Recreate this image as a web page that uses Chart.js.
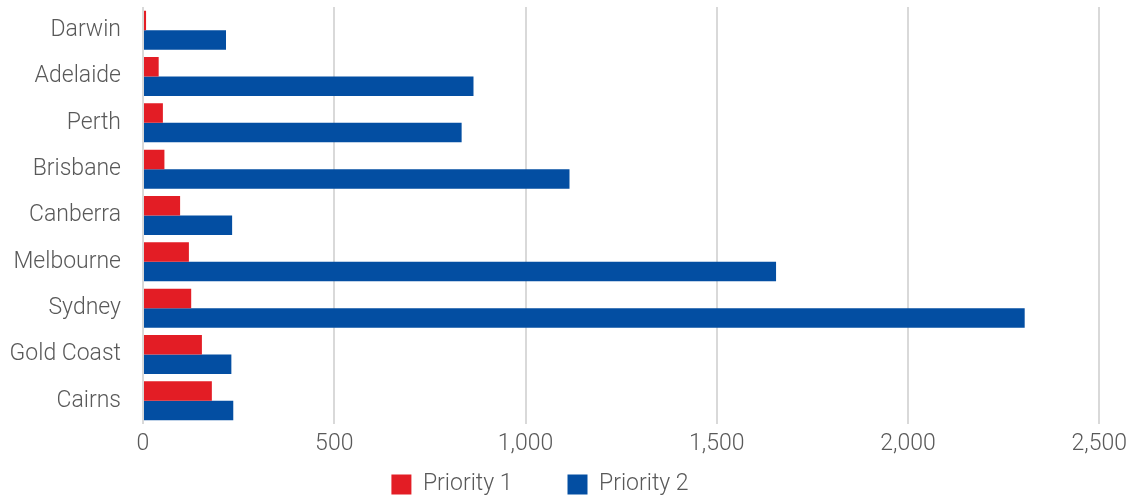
<!DOCTYPE html>
<html>
<head>
<meta charset="utf-8">
<script src="https://cdn.jsdelivr.net/npm/chart.js@4/dist/chart.umd.min.js"></script>
<style>
  html, body { margin: 0; padding: 0; background: #fff; }
  #wrap { width: 1133px; height: 501px; }
</style>
</head>
<body>
<div id="wrap"><canvas id="chart"></canvas></div>
<script>
// Datos
const cities = ['Darwin', 'Adelaide', 'Perth', 'Brisbane', 'Canberra', 'Melbourne', 'Sydney', 'Gold Coast', 'Cairns'];
const priority1 = [8, 41, 52, 56, 97, 120, 126, 154, 180];
const priority2 = [217, 864, 833, 1115, 233, 1655, 2305, 231, 236];
const xTicks = [0, 500, 1000, 1500, 2000, 2500];

const RED = '#e31d25';
const BLUE = '#034ea2';
const TEXT = '#595959';
const FONT = 'Roboto';

// Ajuste de la leyenda: el padding grande separa items, pero no queremos tanto alto
const legendHeight = {
    id: 'legendHeight',
    beforeInit(chart) {
        const fit = chart.legend.fit;
        chart.legend.fit = function () {
            fit.call(this);
            this.height = 43;
        };
    },
    afterLayout(chart) {
        const lg = chart.legend;
        lg.top -= 40;
        lg.left -= 10;
        lg.right -= 10;
    }
};

new Chart(document.getElementById('chart'), {
    type: 'bar',
    data: {
        labels: cities,
        datasets: [
            { label: 'Priority 1', data: priority1, backgroundColor: RED },
            { label: 'Priority 2', data: priority2, backgroundColor: BLUE }
        ]
    },
    plugins: [legendHeight],
    options: {
        indexAxis: 'y',
        responsive: true,
        maintainAspectRatio: false,
        animation: false,
        datasets: { bar: { barPercentage: 1, categoryPercentage: 0.84 } },
        layout: { padding: { top: 7, right: 33, left: 0, bottom: 0 } },
        plugins: {
            tooltip: { enabled: false },
            legend: {
                position: 'bottom',
                labels: {
                    boxWidth: 20,
                    boxHeight: 20,
                    padding: 55,
                    color: TEXT,
                    font: { family: FONT, size: 23, weight: '300' }
                }
            }
        },
        scales: {
            x: {
                min: 0,
                max: 2500,
                afterBuildTicks: s => { s.ticks = xTicks.map(v => ({ value: v })); },
                afterFit: s => { s.height = 34; },
                grid: { color: '#d9d9d9', lineWidth: 2, drawTicks: false },
                border: { display: false },
                ticks: {
                    padding: 6,
                    color: TEXT,
                    font: { family: FONT, size: 23, weight: '300' },
                    callback: v => v.toLocaleString('en-US')
                }
            },
            y: {
                grid: { display: false },
                border: { display: false },
                afterFit: s => {
                    s.width = 143;
                    s.paddingTop = 0;
                    s.paddingBottom = 0;
                },
                ticks: {
                    padding: 14,
                    color: TEXT,
                    font: { family: FONT, size: 23, weight: '300' }
                }
            }
        }
    }
});
</script>
</body>
</html>
